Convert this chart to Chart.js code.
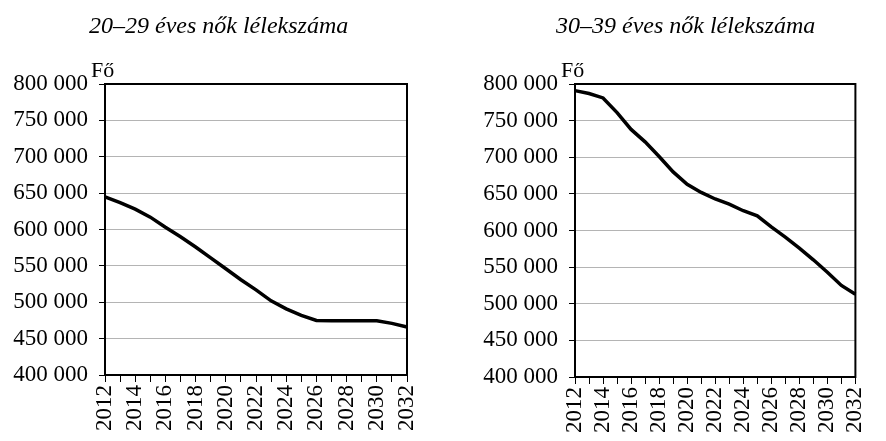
<!DOCTYPE html>
<html>
<head>
<meta charset="utf-8">
<title>Nők lélekszáma</title>
<script src="https://cdn.jsdelivr.net/npm/chart.js"></script>
<style>
    body { margin: 0; background: #fff; }
    .panel { position: absolute; top: 0; width: 443px; height: 441px; }
    .panel canvas { display: block; }
    .title {
        position: absolute; top: 12px;
        font-family: "Liberation Serif", serif; font-style: italic; font-size: 24px;
        color: #000; white-space: nowrap;
    }
</style>
</head>
<body>
<div class="panel" style="left:0">
    <canvas id="chartYoung" width="443" height="441"></canvas>
    <div class="title" style="left:89px">20–29 éves nők lélekszáma</div>
</div>
<div class="panel" style="left:443px">
    <canvas id="chartOld" width="443" height="441"></canvas>
    <div class="title" style="left:113px">30–39 éves nők lélekszáma</div>
</div>
<script>
    // years on the x axis
    const years = ['2012', '2013', '2014', '2015', '2016', '2017', '2018', '2019', '2020', '2021', '2022',
                   '2023', '2024', '2025', '2026', '2027', '2028', '2029', '2030', '2031', '2032'];

    // 20-29 year old women (persons)
    const women2029 = [645000, 637000, 628000, 617000, 603000, 590000, 576000, 561000, 546000, 531000, 517000,
                       502000, 491000, 482000, 475000, 474500, 474500, 474500, 474500, 471000, 466000];

    // 30-39 year old women (persons)
    const women3039 = [791000, 787000, 781000, 761000, 738000, 721000, 701000, 680000, 663000, 652000, 643000,
                       636000, 627000, 620000, 605000, 591000, 576000, 560000, 543000, 525000, 513000];

    const yTicks = [400000, 450000, 500000, 550000, 600000, 650000, 700000, 750000, 800000];

    const serif = 'Liberation Serif';

    // frame round the plot area + "Fő" unit label
    const framePlugin = {
        id: 'frame',
        afterDraw(chart) {
            const a = chart.chartArea, ctx = chart.ctx;
            ctx.save();
            ctx.strokeStyle = '#000';
            ctx.lineWidth = 2;
            ctx.strokeRect(a.left, a.top, a.right - a.left, a.bottom - a.top);
            ctx.fillStyle = '#000';
            ctx.font = '22px "' + serif + '"';
            ctx.textAlign = 'left';
            ctx.textBaseline = 'alphabetic';
            ctx.fillText('Fő', a.left - 14, a.top - 7);
            ctx.restore();
        }
    };

    function createLineChart(id, values, box) {
        const ctx = document.getElementById(id).getContext('2d');
        return new Chart(ctx, {
            type: 'line',
            data: {
                labels: years,
                datasets: [{
                    data: values,
                    borderColor: '#000',
                    borderWidth: 3.5,
                    pointRadius: 0,
                    tension: 0,
                    fill: false
                }]
            },
            options: {
                responsive: false,
                animation: false,
                layout: { padding: { top: box.top, right: box.right, left: 0, bottom: 0 } },
                plugins: { legend: { display: false }, tooltip: { enabled: false } },
                scales: {
                    x: {
                        offset: false,
                        grid: { drawOnChartArea: false, tickLength: 7, tickColor: '#000', tickWidth: 1 },
                        border: { color: '#000', width: 2 },
                        ticks: {
                            autoSkip: false,
                            minRotation: 90,
                            maxRotation: 90,
                            padding: 3,
                            color: '#000',
                            font: { family: serif, size: 23 },
                            callback: function (v, i) { return i % 2 === 0 ? years[i] : ''; }
                        },
                        afterFit: function (s) { s.height = 441 - box.bottom; }
                    },
                    y: {
                        min: yTicks[0],
                        max: yTicks[yTicks.length - 1],
                        grid: { color: '#b4b4b4', lineWidth: 1, tickLength: 6, tickColor: '#000' },
                        border: { color: '#000', width: 2 },
                        afterBuildTicks: function (s) { s.ticks = yTicks.map(v => ({ value: v })); },
                        ticks: {
                            padding: 11,
                            color: '#000',
                            font: { family: serif, size: 23 },
                            callback: function (v) { return String(v).replace(/\B(?=(\d{3})+(?!\d))/g, ' '); }
                        },
                        afterFit: function (s) { s.width = box.left; }
                    }
                }
            },
            plugins: [framePlugin]
        });
    }

    createLineChart('chartYoung', women2029, { left: 105, right: 36, top: 84, bottom: 375 });
    createLineChart('chartOld', women3039, { left: 132, right: 8, top: 84, bottom: 377 });
</script>
</body>
</html>
